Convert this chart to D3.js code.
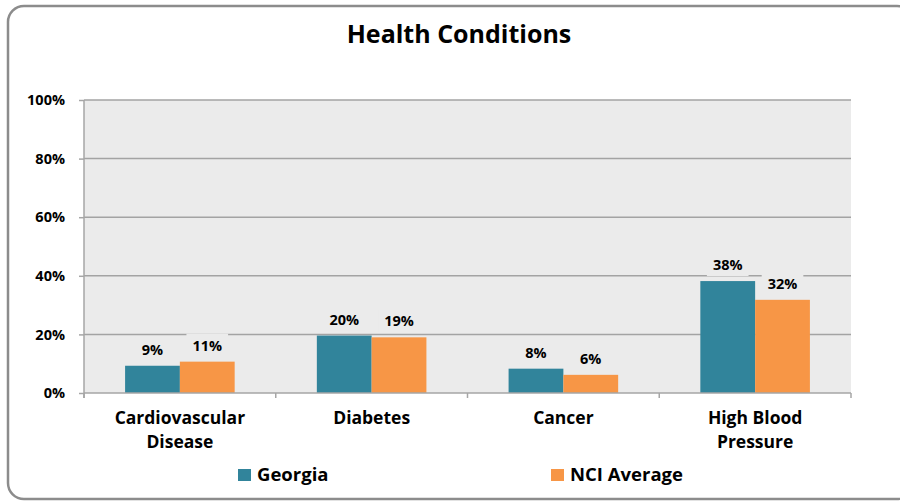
<!DOCTYPE html>
<meta charset="utf-8">
<style>
body { margin: 0; background: #fff; }
text { font-family: "Open Sans", Lato, sans-serif; font-weight: bold; fill: #000; }
.grid line { stroke: #a3a3a3; stroke-width: 1.5; }
.axis path, .axis line { stroke: #a6a6a6; stroke-width: 1.5; }
</style>
<body>
<script src="https://cdn.jsdelivr.net/npm/d3@7"></script>
<script>

var categories = [["Cardiovascular", "Disease"], ["Diabetes"], ["Cancer"], ["High Blood", "Pressure"]];
var seriesNames = ["Georgia", "NCI Average"];
var georgia = [9.3, 19.6, 8.3, 38.2];
var nciAverage = [10.7, 19.0, 6.2, 31.8];
var yTicks = [0, 20, 40, 60, 80, 100];
var colors = ["#31849b", "#f79646"];

var W = 900, H = 502;
var margin = {top: 100, right: 49, bottom: 109, left: 84},
    width = W - margin.left - margin.right,
    height = H - margin.top - margin.bottom;

var svg = d3.select("body").append("svg")
    .attr("width", W)
    .attr("height", H);

// outer frame
svg.append("rect")
    .attr("x", 8).attr("y", 6)
    .attr("width", 905).attr("height", 493)
    .attr("rx", 16)
    .attr("fill", "none")
    .attr("stroke", "#8c8c8c")
    .attr("stroke-width", 2.5);

svg.append("text")
    .attr("x", 459).attr("y", 43)
    .attr("text-anchor", "middle")
    .style("font-size", "25px")
    .text("Health Conditions");

var g = svg.append("g")
    .attr("transform", "translate(" + margin.left + "," + margin.top + ")");

var keys = categories.map(function(c) { return c.join(" "); });

var x = d3.scaleBand().domain(keys).range([0, width]);
var x1 = d3.scaleBand().domain(seriesNames).range([0, x.bandwidth()]).paddingOuter(0.75).paddingInner(0);
var y = d3.scaleLinear().domain([0, 100]).range([height, 0]);

g.append("rect")
    .attr("width", width).attr("height", height)
    .attr("fill", "#ebebeb");

g.append("g").attr("class", "grid")
    .selectAll("line")
    .data(yTicks.slice(1))
  .enter().append("line")
    .attr("x1", 0).attr("x2", width)
    .attr("y1", function(d) { return y(d); })
    .attr("y2", function(d) { return y(d); });

var data = keys.map(function(k, i) {
  return {key: k, values: [georgia[i], nciAverage[i]]};
});

var groups = g.selectAll(".grp")
    .data(data)
  .enter().append("g")
    .attr("class", "grp")
    .attr("transform", function(d) { return "translate(" + x(d.key) + ",0)"; });

groups.selectAll("rect")
    .data(function(d) { return d.values.map(function(v, j) { return {s: seriesNames[j], v: v, j: j}; }); })
  .enter().append("rect")
    .attr("x", function(d) { return x1(d.s); })
    .attr("width", x1.bandwidth())
    .attr("y", function(d) { return y(d.v); })
    .attr("height", function(d) { return height - y(d.v); })
    .attr("fill", function(d) { return colors[d.j]; });

// data labels with background box
var labels = groups.selectAll(".lbl")
    .data(function(d) { return d.values.map(function(v, j) { return {s: seriesNames[j], v: v}; }); })
  .enter().append("g").attr("class", "lbl");

labels.append("rect").attr("fill", "#ebebeb");
labels.append("text")
    .attr("x", function(d) { return x1(d.s) + x1.bandwidth() / 2; })
    .attr("y", function(d) { return y(d.v) - 11; })
    .attr("text-anchor", "middle")
    .style("font-size", "14.5px")
    .text(function(d) { return Math.round(d.v) + "%"; });

labels.each(function() {
  var t = d3.select(this).select("text").node().getBBox();
  d3.select(this).select("rect")
    .attr("x", t.x - 6).attr("y", t.y - 2)
    .attr("width", t.width + 12).attr("height", t.height + 4);
});

// y axis
var yAxis = g.append("g").attr("class", "axis")
    .call(d3.axisLeft(y).tickValues(yTicks).tickSize(5).tickPadding(14)
      .tickFormat(function(d) { return d + "%"; }));
yAxis.select(".domain").attr("d", "M0," + (height + 5) + "V0");
yAxis.selectAll("text").style("font-size", "14.5px");

// x axis
var xAxis = g.append("g").attr("class", "axis")
    .attr("transform", "translate(0," + height + ")");
xAxis.append("line").attr("x1", 0).attr("x2", width);
xAxis.selectAll(".tk")
    .data(d3.range(keys.length + 1))
  .enter().append("line").attr("class", "tk")
    .attr("x1", function(i) { return i * x.step(); })
    .attr("x2", function(i) { return i * x.step(); })
    .attr("y1", 0).attr("y2", 5);

// category labels, one text per line
xAxis.selectAll(".cat")
    .data(categories)
  .enter().append("g")
    .attr("class", "cat")
    .attr("transform", function(d, i) { return "translate(" + (x(keys[i]) + x.bandwidth() / 2) + ",0)"; })
  .selectAll("text")
    .data(function(d) { return d; })
  .enter().append("text")
    .attr("text-anchor", "middle")
    .attr("y", function(d, i) { return 30.5 + i * 24; })
    .style("font-size", "17.5px")
    .text(function(d) { return d; });

// legend
var legendX = [238, 551];
var legend = svg.selectAll(".leg")
    .data(seriesNames)
  .enter().append("g")
    .attr("transform", function(d, i) { return "translate(" + legendX[i] + ",466)"; });
legend.append("rect")
    .attr("y", 3)
    .attr("width", 13).attr("height", 12)
    .attr("fill", function(d, i) { return colors[i]; });
legend.append("text")
    .attr("x", 19).attr("y", 15)
    .style("font-size", "18.5px")
    .text(function(d) { return d; });

</script>
</body>
